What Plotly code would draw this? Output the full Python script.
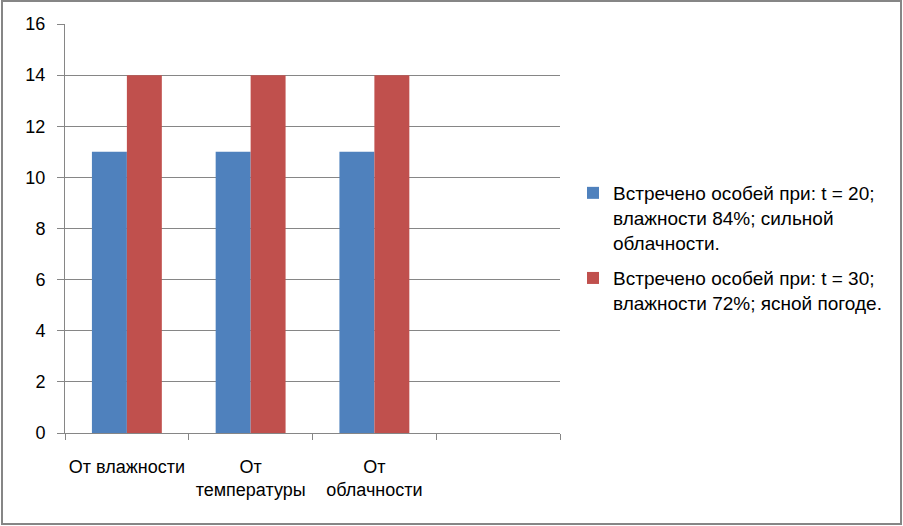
import plotly.graph_objects as go

categories = ["От влажности", "От<br>температуры", "От<br>облачности", " "]
series1_name = "Встречено особей при: t = 20;<br>влажности 84%; сильной<br>облачности."
series2_name = "Встречено особей при: t = 30;<br>влажности 72%; ясной погоде."
series1 = [11, 11, 11, None]
series2 = [14, 14, 14, None]
y_ticks = [0, 2, 4, 6, 8, 10, 12, 14, 16]

FONT = "Liberation Sans"
GRAY = "#868686"

fig = go.Figure()
fig.add_trace(go.Bar(x=categories, y=series1, name=series1_name, legendgroup="g1",
                     marker=dict(color="#4F81BD", line=dict(width=0))))
fig.add_trace(go.Bar(x=categories, y=series2, name=series2_name, legendgroup="g2",
                     marker=dict(color="#C0504D", line=dict(width=0))))

L, R, T, B = 65, 343, 24, 93
W, H = 903, 526
pw = W - L - R
ph = H - T - B

fig.update_layout(
    width=W, height=H,
    margin=dict(l=L, r=R, t=T, b=B, pad=0, autoexpand=False),
    paper_bgcolor="white", plot_bgcolor="white",
    barmode="group", bargap=0.435, bargroupgap=0,
    font=dict(family=FONT, size=18, color="#000000"),
    showlegend=True,
    legend=dict(x=(573 - L) / pw, xanchor="left", y=(H - B - 248) / ph, yanchor="middle",
                font=dict(family=FONT, size=19), tracegroupgap=8, valign="top",
                bgcolor="rgba(0,0,0,0)"),
    shapes=[dict(type="rect", xref="paper", yref="paper",
                 x0=(2 - L) / pw, x1=(901 - L) / pw,
                 y0=(H - B - 524) / ph, y1=(H - B - 1) / ph,
                 line=dict(color=GRAY, width=2), fillcolor="rgba(0,0,0,0)", layer="below")],
)
fig.update_xaxes(
    type="category", tickson="boundaries", ticks="outside", ticklen=6,
    tickcolor=GRAY, tickwidth=1, showline=True, linecolor=GRAY, linewidth=1,
    showgrid=False, tickfont=dict(family=FONT, size=18), ticklabelstandoff=17,
    tickangle=0,
)
fig.update_yaxes(
    range=[0, 16], tickvals=y_ticks, ticks="outside", ticklen=7, tickcolor=GRAY,
    showline=True, linecolor=GRAY, linewidth=1, showgrid=True, gridcolor=GRAY,
    gridwidth=1, zeroline=False, tickfont=dict(family=FONT, size=18), ticklabelstandoff=8,
)

fig.write_html("out.html", config={"displayModeBar": False},
               post_script="document.body.style.margin='0';document.body.style.overflow='hidden';")
